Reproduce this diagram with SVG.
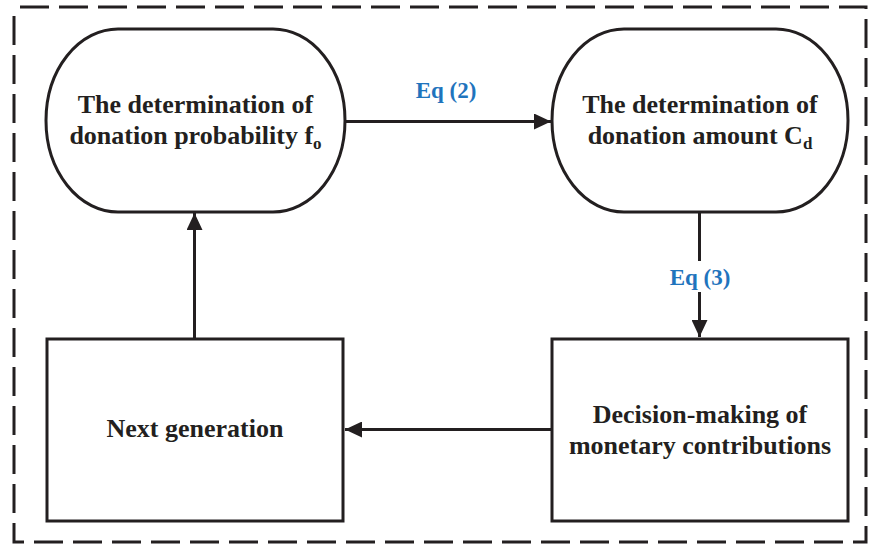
<svg xmlns="http://www.w3.org/2000/svg" width="871" height="544" viewBox="0 0 871 544">
<style>
.node{fill:#fff;stroke:#231f20;stroke-width:3}
.lbl{font-family:"Liberation Serif","Times New Roman",serif;font-weight:bold;font-size:26px;fill:#231f20;text-anchor:middle}
.eq{font-family:"Liberation Serif","Times New Roman",serif;font-weight:bold;font-size:23px;fill:#1f74bd;text-anchor:middle}
.sub{font-size:17px}
.conn{fill:none;stroke:#231f20;stroke-width:3}
.border{fill:none;stroke:#231f20;stroke-width:3;stroke-dasharray:29 10}
</style>
<defs>
<marker id="arr" markerUnits="userSpaceOnUse" markerWidth="17" markerHeight="16" refX="17" refY="8" orient="auto">
<path d="M0,0 L17,8 L0,16 z" fill="#231f20"/>
</marker>
</defs>
<rect width="871" height="544" fill="#fff"/>
<path class="border" d="M20,7 H866 V542 H14 V7"/>
<g id="connectors">
<path class="conn" d="M345,121.5 H551" marker-end="url(#arr)"/>
<path class="conn" d="M699.5,212 V261 M699.5,292 V337" marker-end="url(#arr)"/>
<path class="conn" d="M552,429.5 H345" marker-end="url(#arr)"/>
<path class="conn" d="M194.5,339 V213" marker-end="url(#arr)"/>
</g>
<g id="label-eq2"><text class="eq" x="446" y="98">Eq (2)</text></g>
<g id="label-eq3"><text class="eq" x="700" y="285">Eq (3)</text></g>
<g id="node-probability">
<rect class="node" x="46" y="29" width="299" height="183" rx="72" ry="91.5"/>
<text class="lbl" x="195.5" y="113">The determination of</text>
<text class="lbl" x="195.5" y="144">donation probability f<tspan class="sub" dy="5">o</tspan></text>
</g>
<g id="node-amount">
<rect class="node" x="552" y="29" width="296" height="183" rx="72" ry="91.5"/>
<text class="lbl" x="700" y="113">The determination of</text>
<text class="lbl" x="700" y="144">donation amount C<tspan class="sub" dy="5">d</tspan></text>
</g>
<g id="node-decision">
<rect class="node" x="552" y="339" width="296" height="182"/>
<text class="lbl" x="700" y="422.5">Decision-making of</text>
<text class="lbl" x="700" y="453.5">monetary contributions</text>
</g>
<g id="node-next">
<rect class="node" x="47" y="339" width="296" height="182"/>
<text class="lbl" x="195" y="437">Next generation</text>
</g>
</svg>
